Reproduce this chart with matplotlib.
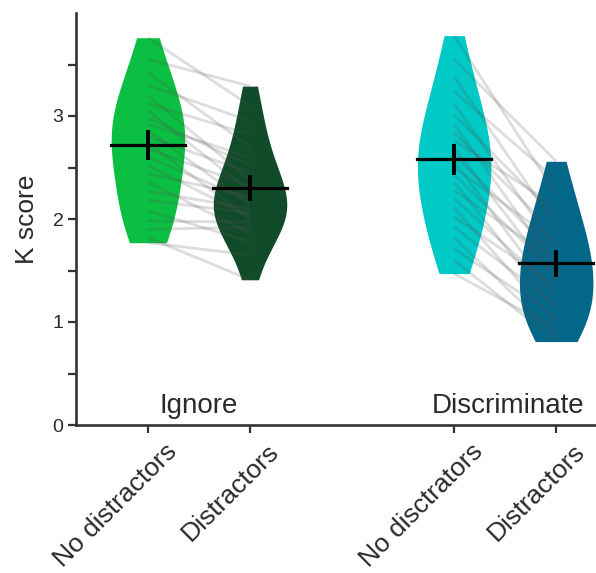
import numpy as np
import matplotlib
matplotlib.use("Agg")
import matplotlib.pyplot as plt
import matplotlib.transforms as mtransforms

plt.rcParams['font.family'] = ['Liberation Sans', 'DejaVu Sans']

# ---- data ----
categories = ["No distractors", "Distractors", "No disctrators", "Distractors"]
groups = ["Ignore", "Discriminate"]
positions = [1, 2, 4, 5]

ignore_no = [3.76, 3.55, 3.42, 3.30, 3.20, 3.12, 3.05, 2.98, 2.92, 2.86, 2.80, 2.74,
             2.68, 2.60, 2.52, 2.44, 2.36, 2.27, 2.18, 2.08, 1.98, 1.90, 1.82, 1.77]
ignore_d = [3.10, 3.29, 2.70, 2.95, 2.38, 2.82, 2.27, 2.52, 2.60, 2.14, 2.45, 2.00,
            2.32, 2.18, 2.02, 2.22, 1.86, 2.10, 2.06, 1.78, 1.97, 1.92, 1.41, 1.65]
disc_no = [3.78, 3.55, 3.38, 3.24, 3.12, 3.01, 2.92, 2.84, 2.76, 2.69, 2.62, 2.56,
           2.50, 2.43, 2.36, 2.28, 2.20, 2.11, 2.02, 1.92, 1.82, 1.71, 1.60, 1.47]
disc_d = [2.24, 2.56, 1.93, 2.38, 1.71, 2.02, 1.53, 1.85, 2.12, 1.41, 1.65, 1.23,
          1.78, 1.47, 1.11, 1.59, 1.29, 0.99, 1.35, 1.17, 0.87, 1.05, 0.81, 0.93]

means = [2.72, 2.30, 2.58, 1.57]
sems = [0.125, 0.11, 0.13, 0.11]

colors = ["#0abf41", "#114c2a", "#00c9c6", "#03678a"]

series = [ignore_no, ignore_d, disc_no, disc_d]
pairs = [(0, 1), (2, 3)]

# ---- figure ----
fig = plt.figure(figsize=(5.96, 5.73), dpi=100)
ax = fig.add_axes([76 / 596, 148 / 573, 1 - 76 / 596, (425 - 13) / 573])

half_w = 0.36

def kde(vals, grid, factor=1.15):
    v = np.asarray(vals)
    bw = factor * v.std(ddof=1) * len(v) ** (-1 / 5)
    d = np.exp(-0.5 * ((grid[:, None] - v[None, :]) / bw) ** 2).sum(axis=1)
    return d

for pos, vals, col in zip(positions, series, colors):
    grid = np.linspace(min(vals), max(vals), 200)
    d = kde(vals, grid)
    d = d / d.max() * half_w
    ax.fill_betweenx(grid, pos - d, pos + d, color=col, linewidth=0, zorder=1)

# paired lines
for a, b in pairs:
    for ya, yb in zip(series[a], series[b]):
        ax.plot([positions[a], positions[b]], [ya, yb], color="#555555",
                alpha=0.2, lw=2.0, solid_capstyle="butt", zorder=2)

# mean and sem
for pos, m, s in zip(positions, means, sems):
    ax.plot([pos - half_w, pos + half_w], [m, m], color="black", lw=2.3, zorder=3)
    ax.plot([pos, pos], [m - s, m + s], color="black", lw=2.8, zorder=3)

ax.set_ylim(0, 4)
ax.set_xlim(0.295, 5.39)
ax.set_yticks([0, 1, 2, 3])
ax.set_yticks([0.5, 1.5, 2.5, 3.5], minor=True)
ax.set_xticks(positions)
ax.set_xticklabels([])

xt = ax.get_xaxis_transform() + mtransforms.ScaledTranslation(
    25 / 100, -23 / 100, fig.dpi_scale_trans)
for pos, lab in zip(positions, categories):
    ax.text(pos, 0, lab, transform=xt, rotation=45, ha="right", va="center",
            rotation_mode="anchor", fontsize=19, color="#2a2a2a")

for sp in ["top", "right"]:
    ax.spines[sp].set_visible(False)
for sp in ["left", "bottom"]:
    ax.spines[sp].set_linewidth(1.9)
    ax.spines[sp].set_color("#333333")

ax.tick_params(axis="both", which="both", direction="out", length=6, width=1.6,
               color="#333333")
ax.tick_params(axis="y", labelsize=14, labelcolor="#2a2a2a", pad=3)
ax.set_ylabel("K score", fontsize=19, color="#2a2a2a", labelpad=10)

for x, g in zip([1.5, 4.53], groups):
    ax.text(x, 0.18, g, ha="center", va="center", fontsize=20, color="#2a2a2a")

fig.savefig("out.png", dpi=100)
